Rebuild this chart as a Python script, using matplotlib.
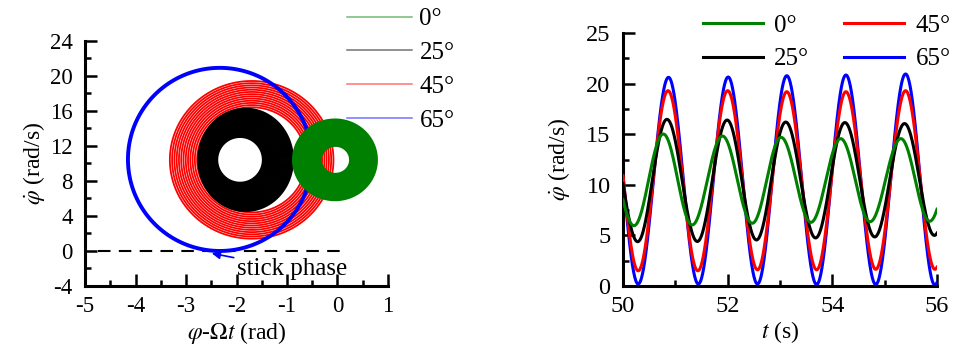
import numpy as np
import matplotlib
matplotlib.use('Agg')
import matplotlib.pyplot as plt
from matplotlib.lines import Line2D
from matplotlib.collections import LineCollection
from matplotlib.ticker import MultipleLocator

plt.rcParams['font.family'] = 'serif'
plt.rcParams['font.serif'] = ['Liberation Serif', 'Times New Roman', 'DejaVu Serif']
plt.rcParams['mathtext.fontset'] = 'stix'
plt.rcParams['axes.unicode_minus'] = False

labels = ['0°', '25°', '45°', '65°']
colors = ['#008000', 'black', 'red', 'blue']

# phase portrait: each case sweeps from an inner loop to an outer loop
ring_cx_in = [-0.04, -1.93, -1.70, -2.33]
ring_cx_out = [-0.05, -1.82, -1.70, -2.33]
ring_cy = [10.4, 10.4, 10.4, 10.45]
ring_ax_in = [0.29, 0.45, 1.08, 1.82]
ring_ax_out = [0.83, 0.94, 1.62, 1.82]
ring_ay_in = [1.6, 2.6, 6.0, 10.45]
ring_ay_out = [4.6, 5.85, 9.0, 10.45]
ring_turns = [30, 30, 12, 1]

# time histories: times and values of successive extrema
t_0 = [49.62, 50.21, 50.77, 51.32, 51.90, 52.47, 53.02, 53.59, 54.16, 54.72, 55.31, 55.86, 56.42]
v_0 = [15.1, 5.96, 15.02, 6.03, 14.82, 6.2, 14.69, 6.29, 14.56, 6.35, 14.56, 6.4, 14.5]
t_25 = [49.70, 50.28, 50.84, 51.42, 51.99, 52.55, 53.11, 53.68, 54.24, 54.81, 55.38, 55.95, 56.5]
v_25 = [16.5, 4.38, 16.47, 4.4, 16.4, 4.55, 16.2, 4.75, 16.15, 4.85, 16.05, 5.0, 16.0]
t_45 = [49.73, 50.29, 50.86, 51.43, 52.00, 52.57, 53.13, 53.70, 54.26, 54.83, 55.40, 55.96, 56.53]
v_45 = [19.3, 1.5, 19.3, 1.5, 19.3, 1.6, 19.2, 1.6, 19.2, 1.65, 19.3, 1.65, 19.3]
t_65 = [49.73, 50.29, 50.87, 51.44, 52.01, 52.57, 53.13, 53.70, 54.26, 54.83, 55.40, 55.96, 56.53]
v_65 = [20.6, 0.2, 20.62, 0.2, 20.65, 0.2, 20.78, 0.15, 20.85, 0.15, 20.95, 0.1, 21.0]


def wave(tk, vk, t):
    tk = np.asarray(tk)
    vk = np.asarray(vk)
    i = np.clip(np.searchsorted(tk, t) - 1, 0, len(tk) - 2)
    f = (t - tk[i]) / (tk[i + 1] - tk[i])
    return vk[i + 1] + (vk[i] - vk[i + 1]) * (1 + np.cos(np.pi * f)) / 2


fig = plt.figure(figsize=(9.62, 3.46), dpi=100)
ax1 = fig.add_axes([0.0884, 0.1734, 0.3149, 0.709])
ax2 = fig.add_axes([0.6476, 0.1734, 0.3264, 0.7312])

# left: phase portrait, one closed loop per cycle
lws = [1.5, 1.3, 1.3, 2.8]
zs = [5, 3, 2, 4]
th = np.linspace(0, 2 * np.pi, 400)
for i in range(4):
    n = ring_turns[i]
    loops = []
    for k in range(n + 1 if n > 1 else 1):
        s = k / n
        cx = ring_cx_in[i] + (ring_cx_out[i] - ring_cx_in[i]) * s
        rx = ring_ax_in[i] + (ring_ax_out[i] - ring_ax_in[i]) * s
        ry = ring_ay_in[i] + (ring_ay_out[i] - ring_ay_in[i]) * s
        loops.append(np.column_stack([cx + rx * np.sin(th), ring_cy[i] + ry * np.cos(th)]))
    ax1.add_collection(LineCollection(loops, colors=colors[i], linewidths=lws[i],
                                      zorder=zs[i]))

ax1.plot([-4.75, 0.1], [0, 0], color='black', lw=1.5, dashes=(6, 4), zorder=1)
ax1.annotate('stick phase', xy=(-2.49, -0.27), xytext=(-2.0, -2.05),
             fontsize=18, va='center', ha='left',
             arrowprops=dict(arrowstyle='-|>', color='blue', lw=1.2,
                             mutation_scale=12, shrinkA=0, shrinkB=0))

ax1.set_xlim(-5, 1)
ax1.set_ylim(-4, 24)
ax1.xaxis.set_major_locator(MultipleLocator(1))
ax1.xaxis.set_minor_locator(MultipleLocator(0.5))
ax1.yaxis.set_major_locator(MultipleLocator(4))
ax1.yaxis.set_minor_locator(MultipleLocator(2))
ax1.set_xlabel(r'$\varphi$-$\Omega t$ (rad)', fontsize=17, labelpad=2)
ax1.set_ylabel(r'$\dot{\varphi}$ (rad/s)', fontsize=17, labelpad=2)

# right: time histories
t = np.linspace(50, 56, 3000)
series = [(t_0, v_0), (t_25, v_25), (t_45, v_45), (t_65, v_65)]
order = [3, 2, 1, 0]
for i in order:
    tk, vk = series[i]
    ax2.plot(t, wave(tk, vk, t), color=colors[i], lw=2.2, zorder=2 + (3 - i))

ax2.set_xlim(50, 56)
ax2.set_ylim(0, 25)
ax2.xaxis.set_major_locator(MultipleLocator(2))
ax2.xaxis.set_minor_locator(MultipleLocator(1))
ax2.yaxis.set_major_locator(MultipleLocator(5))
ax2.yaxis.set_minor_locator(MultipleLocator(2.5))
ax2.set_xlabel(r'$t$ (s)', fontsize=17, labelpad=2)
ax2.set_ylabel(r'$\dot{\varphi}$ (rad/s)', fontsize=17, labelpad=10)

for ax, fs in [(ax1, 16.5), (ax2, 17.5)]:
    for side in ['top', 'right']:
        ax.spines[side].set_visible(False)
    for side in ['left', 'bottom']:
        ax.spines[side].set_linewidth(2.2)
    ax.tick_params(which='major', direction='in', length=8.5, width=1.8,
                   labelsize=fs)
    ax.tick_params(which='minor', direction='in', length=4.5, width=1.8)
    ax.tick_params(axis='x', which='major', pad=7)
    ax.tick_params(axis='y', which='major', pad=9)

h1 = [Line2D([], [], color=c, lw=1.1, alpha=0.55) for c in colors]
fig.legend(h1, labels, loc='upper left', bbox_to_anchor=(0.3607, 0.977),
           frameon=False, fontsize=18, handlelength=2.6, handletextpad=0.3,
           labelspacing=0.45, borderpad=0, borderaxespad=0)

h2 = [Line2D([], [], color=c, lw=2.2) for c in colors]
fig.legend(h2, labels, loc='upper left', bbox_to_anchor=(0.7308, 0.958), ncol=2,
           frameon=False, fontsize=18, handlelength=2.4, handletextpad=0.45,
           labelspacing=0.43, columnspacing=1.4, borderpad=0, borderaxespad=0)

fig.savefig('out.png', dpi=100)
